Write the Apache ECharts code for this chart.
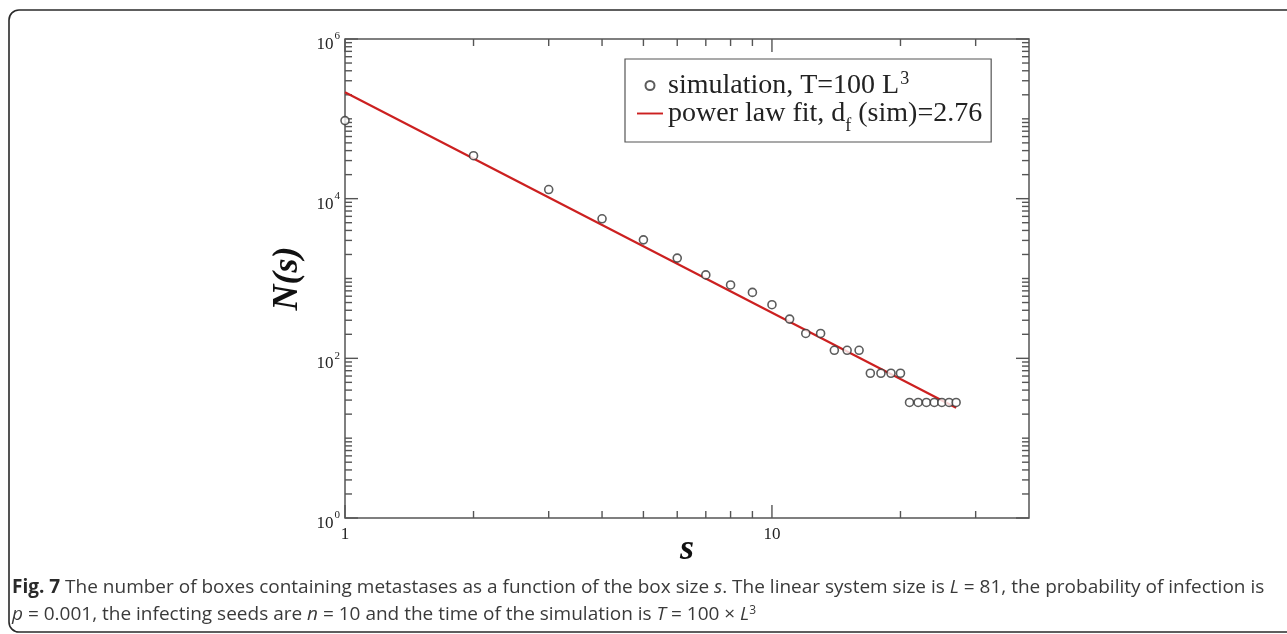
<!DOCTYPE html>
<html>
<head>
<meta charset="utf-8">
<script src="https://cdn.jsdelivr.net/npm/echarts@6/dist/echarts.min.js"></script>
<style>
html,body{margin:0;padding:0;background:#fff;}
#chart{width:1287px;height:634px;}
</style>
</head>
<body>
<div id="chart"></div>
<script>
// ---- data ----
const boxSize = [1,2,3,4,5,6,7,8,9,10,11,12,13,14,15,16,17,18,19,20,21,22,23,24,25,26,27];
const boxCount = [95000,34500,13000,5600,3050,1800,1110,830,670,470,310,205,205,126,126,126,65,65,65,65,28,28,28,28,28,28,28];
const fitS = [1, 27];
const fitN = [215000, 24];
const seriesNames = ['simulation', 'fit'];
const xMajorTicks = [1, 10];
const xMinorTicks = [2,3,4,5,6,7,8,9,20,30];
const yMajorTicks = [1, 100, 10000, 1000000];
const yMinorTicks = [];
for (let n = 0; n < 6; n++) for (let k = 1; k <= 9; k++) {
  const v = k * Math.pow(10, n);
  if (yMajorTicks.indexOf(v) < 0) yMinorTicks.push(v);
}

const serif = 'Liberation Serif';
const chart = echarts.init(document.getElementById('chart'), null, {renderer: 'canvas'});

const tickData = [];
xMajorTicks.forEach(v => tickData.push([v, 1, 0]));
xMinorTicks.forEach(v => tickData.push([v, 1, 1]));
yMajorTicks.forEach(v => tickData.push([1, v, 2]));
yMinorTicks.forEach(v => tickData.push([1, v, 3]));

function isPow10(v) {
  const l = Math.log10(v);
  return Math.abs(l - Math.round(l)) < 1e-9;
}

const option = {
  animation: false,
  backgroundColor: '#fff',
  grid: {left: 345, right: 258, top: 39, bottom: 116, show: true, borderColor: '#555', borderWidth: 1.5, backgroundColor: 'transparent'},
  xAxis: {
    type: 'log', logBase: 10, min: 1, max: 40,
    axisLine: {show: false}, axisTick: {show: false}, splitLine: {show: false}, minorTick: {show: false},
    axisLabel: {
      margin: 8, color: '#222', fontFamily: serif, fontSize: 17,
      formatter: v => isPow10(v) ? String(Math.round(v)) : ''
    },
    name: 's', nameLocation: 'middle', nameGap: 14, nameMoveOverlap: false,
    nameTextStyle: {fontFamily: serif, fontStyle: 'italic', fontWeight: 'bold', fontSize: 36, color: '#111', verticalAlign: 'top'}
  },
  yAxis: {
    type: 'log', logBase: 10, min: 1, max: 1000000,
    axisLine: {show: false}, axisTick: {show: false}, splitLine: {show: false}, minorTick: {show: false},
    axisLabel: {
      margin: 5, color: '#222', padding: [6, 0, 0, 0],
      formatter: v => {
        const e = Math.round(Math.log10(v));
        return (e % 2 === 0) ? '{b|10}{e|' + e + '}' : '';
      },
      rich: {
        b: {fontFamily: serif, fontSize: 17, color: '#222', lineHeight: 22, verticalAlign: 'bottom'},
        e: {fontFamily: serif, fontSize: 11, color: '#222', lineHeight: 22, verticalAlign: 'top', padding: [0,0,0,1]}
      }
    },
    name: 'N(s)', nameLocation: 'middle', nameGap: 39, nameRotate: 90, nameMoveOverlap: false,
    nameTextStyle: {fontFamily: serif, fontStyle: 'italic', fontWeight: 'bold', fontSize: 36, color: '#111'}
  },
  legend: {
    show: true, orient: 'vertical', left: 625, top: 59,
    data: [
      {name: seriesNames[0], icon: 'circle'},
      {name: seriesNames[1], icon: 'path://M0,0L30,0L30,2.2L0,2.2Z', itemStyle: {color: '#cc2020', borderWidth: 0}}
    ],
    backgroundColor: '#fff', borderColor: '#555', borderWidth: 1.2, borderRadius: 0,
    padding: [11, 9, 7, 12], itemGap: 0, itemWidth: 26, itemHeight: 9,
    formatter: name => name === 'simulation'
      ? '{t|simulation, T=100 L}{sup|3}'
      : '{t|power law fit, d}{sub|f}{t| (sim)=2.76}',
    textStyle: {
      color: '#222',
      rich: {
        t: {fontFamily: serif, fontSize: 28, color: '#222', lineHeight: 31},
        sup: {fontFamily: serif, fontSize: 18, color: '#222', lineHeight: 31, verticalAlign: 'top', padding: [0,0,0,1]},
        sub: {fontFamily: serif, fontSize: 18, color: '#222', lineHeight: 31, verticalAlign: 'bottom', padding: [0,0,-6,0]}
      }
    }
  },
  series: [
    {
      name: seriesNames[0], type: 'scatter', symbol: 'circle', symbolSize: 8,
      itemStyle: {color: '#fff', borderColor: '#333', borderWidth: 1.6},
      data: boxSize.map((s, i) => [s, boxCount[i]]), z: 5, clip: false
    },
    {
      name: seriesNames[1], type: 'line', symbol: 'none', showSymbol: false,
      lineStyle: {color: '#cc2020', width: 2.2}, itemStyle: {color: '#cc2020'},
      data: fitS.map((s, i) => [s, fitN[i]]), z: 4
    },
    {
      name: 'ticks', type: 'custom', silent: true, clip: false, z: 3,
      data: tickData,
      renderItem: (params, api) => {
        const cs = params.coordSys;
        const kind = api.value(2);
        const pt = api.coord([api.value(0), api.value(1)]);
        const st = {stroke: '#555', lineWidth: 1.4};
        if (kind <= 1) {
          const len = kind === 0 ? 13 : 7;
          const b = cs.y + cs.height;
          return {type: 'group', children: [
            {type: 'line', shape: {x1: pt[0], y1: b, x2: pt[0], y2: b - len}, style: st},
            {type: 'line', shape: {x1: pt[0], y1: cs.y, x2: pt[0], y2: cs.y + len}, style: st}
          ]};
        } else {
          const len = kind === 2 ? 13 : 7;
          const r = cs.x + cs.width;
          return {type: 'group', children: [
            {type: 'line', shape: {x1: cs.x, y1: pt[1], x2: cs.x + len, y2: pt[1]}, style: st},
            {type: 'line', shape: {x1: r, y1: pt[1], x2: r - len, y2: pt[1]}, style: st}
          ]};
        }
      }
    }
  ],
  graphic: [
    {type: 'rect', silent: true, shape: {x: 9, y: 10, width: 1320, height: 622, r: 10},
     style: {fill: 'none', stroke: '#2a2a2a', lineWidth: 1.6}, z: 0},
    {type: 'text', left: 12, top: 578, silent: true,
     style: {
       text: '{b|Fig. 7} The number of boxes containing metastases as a function of the box size {i|s}. The linear system size is {i|L} = 81, the probability of infection is',
       font: '19px "Open Sans"', fill: '#3a3a3a',
       rich: {
         b: {fontFamily: 'Open Sans', fontWeight: 'bold', fontSize: 19, fill: '#2a2a2a'},
         i: {fontFamily: 'Open Sans', fontStyle: 'italic', fontSize: 19, fill: '#3a3a3a'}
       }
     }},
    {type: 'text', left: 12, top: 605, silent: true,
     style: {
       text: '{i|p} = 0.001, the infecting seeds are {i|n} = 10 and the time of the simulation is {i|T} = 100 × {i|L}{s|3}',
       font: '19px "Open Sans"', fill: '#3a3a3a',
       rich: {
         i: {fontFamily: 'Open Sans', fontStyle: 'italic', fontSize: 19, fill: '#3a3a3a'},
         s: {fontFamily: 'Open Sans', fontSize: 12, fill: '#3a3a3a', verticalAlign: 'top'}
       }
     }}
  ]
};
chart.setOption(option);
</script>
</body>
</html>
